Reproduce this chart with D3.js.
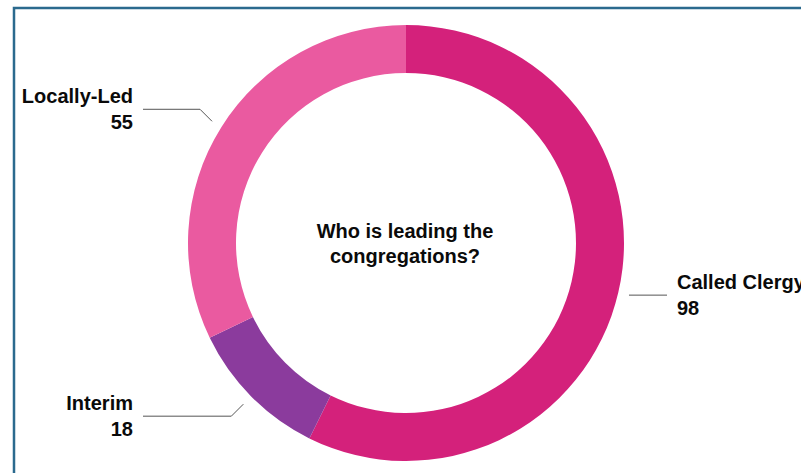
<!DOCTYPE html>
<html lang="en">
<head>
<meta charset="UTF-8">
<script src="https://cdn.jsdelivr.net/npm/d3@7"></script>
<title>Who is leading the congregations?</title>
<style>
  body { margin: 0; background: #fff; }
  text { font-family: "Liberation Sans", Arial, sans-serif; font-weight: bold; fill: #0a0a0a; }
</style>
</head>
<body>
<div id="viz"></div>
<script>
// data
const categories = ["Called Clergy", "Interim", "Locally-Led"];
const counts = [98, 18, 55];
const colors = ["#d4217b", "#8b3b9d", "#ea5aa0"];

const fullWidth = 801, fullHeight = 473;
const cx = 406, cy = 243;
const outerR = 218, innerR = 170;

const svg = d3.select("#viz").append("svg")
    .attr("width", fullWidth)
    .attr("height", fullHeight);

// slide frame
svg.append("rect")
    .attr("x", 14).attr("y", 8)
    .attr("width", 820).attr("height", 500)
    .attr("fill", "none")
    .attr("stroke", "#2b6a8e")
    .attr("stroke-width", 2.5);

const data = categories.map((c, i) => ({ name: c, value: counts[i], color: colors[i] }));

const pie = d3.pie().value(d => d.value).sort(null);
const arc = d3.arc().innerRadius(innerR).outerRadius(outerR);
const arcs = pie(data);

const g = svg.append("g").attr("transform", `translate(${cx},${cy})`);

g.selectAll("path")
    .data(arcs)
    .enter()
    .append("path")
    .attr("d", arc)
    .attr("fill", d => d.data.color);

// labels + leader lines
const tipR = 229;
arcs.forEach(a => {
    const mid = (a.startAngle + a.endAngle) / 2;
    const tx = cx + Math.sin(mid) * tipR;
    const ty = cy - Math.cos(mid) * tipR;
    let pts, textX, anchor, lineY;
    if (tx > cx) {
        lineY = ty;
        pts = [[tx, ty], [667, ty]];
        textX = 677; anchor = "start";
    } else {
        const dy = ty < cy ? -12 : 12;
        lineY = ty + dy;
        pts = [[tx, ty], [tx - 12, lineY], [143, lineY]];
        textX = 133; anchor = "end";
    }
    svg.append("path")
        .attr("d", d3.line()(pts))
        .attr("fill", "none")
        .attr("stroke", "#555")
        .attr("stroke-width", 1);
    svg.append("text")
        .attr("x", textX).attr("y", lineY - 6)
        .attr("text-anchor", anchor)
        .attr("font-size", 20)
        .text(a.data.name);
    svg.append("text")
        .attr("x", textX).attr("y", lineY + 20)
        .attr("text-anchor", anchor)
        .attr("font-size", 20)
        .text(a.data.value);
});

// centre title
const centre = svg.append("text")
    .attr("x", 405).attr("y", 238)
    .attr("text-anchor", "middle")
    .attr("font-size", 20);
centre.append("tspan").attr("x", 405).text("Who is leading the");
centre.append("tspan").attr("x", 405).attr("dy", 25).text("congregations?");
</script>
</body>
</html>
